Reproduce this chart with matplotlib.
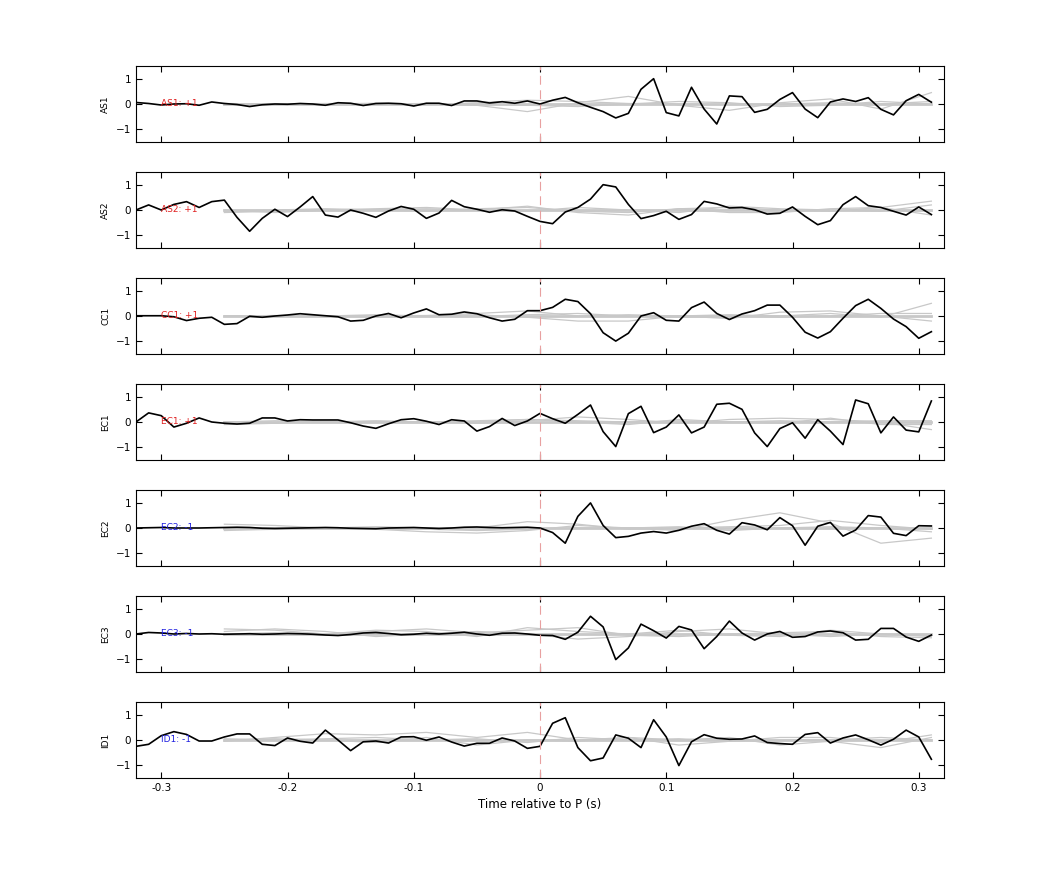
import numpy as np
import matplotlib
matplotlib.use('Agg')
import matplotlib.pyplot as plt

# time axis of the stacked traces (s)
t = np.round(np.arange(-0.32, 0.315, 0.01), 2)
t_gray = np.round(np.arange(-0.25, 0.33, 0.04), 2)

stations = ['AS1', 'AS2', 'CC1', 'EC1', 'EC2', 'EC3', 'ID1']
labels = ['AS1: +1', 'AS2: +1', 'CC1: +1', 'EC1: +1', 'EC2: -1', 'EC3: -1', 'ID1: -1']
label_colors = ['#e02020', '#e02020', '#e02020', '#e02020', '#2020e0', '#2020e0', '#2020e0']

as1 = [0.06, 0.02, -0.04, 0.0, 0.01, -0.05, 0.08, 0.02, -0.02, -0.1, -0.03, 0.0, -0.01, 0.02, 0.0, -0.05,
       0.05, 0.03, -0.06, 0.02, 0.03, 0.01, -0.08, 0.03, 0.03, -0.06, 0.12, 0.12, 0.04, 0.09, 0.03, 0.12,
       0.0, 0.15, 0.26, 0.05, -0.13, -0.3, -0.55, -0.37, 0.58, 1.0, -0.34, -0.47, 0.66, -0.2, -0.79, 0.32,
       0.29, -0.33, -0.21, 0.18, 0.45, -0.2, -0.54, 0.08, 0.2, 0.1, 0.25, -0.21, -0.43, 0.13, 0.38, 0.07]
as2 = [0.0, 0.2, 0.0, 0.22, 0.33, 0.1, 0.33, 0.39, -0.29, -0.84, -0.33, 0.03, -0.26, 0.12, 0.53, -0.2,
       -0.28, 0.0, -0.13, -0.29, -0.04, 0.14, 0.03, -0.33, -0.12, 0.38, 0.13, 0.03, -0.09, 0.01, -0.04, -0.25,
       -0.45, -0.54, -0.08, 0.1, 0.43, 1.0, 0.91, 0.22, -0.34, -0.22, -0.05, -0.37, -0.18, 0.34, 0.24, 0.08,
       0.1, 0.01, -0.16, -0.13, 0.12, -0.25, -0.58, -0.42, 0.21, 0.53, 0.17, 0.1, -0.05, -0.2, 0.12, -0.18]
cc1 = [0.01, 0.01, 0.01, -0.03, -0.18, -0.09, -0.05, -0.33, -0.3, -0.01, -0.05, 0.0, 0.04, 0.09, 0.05, 0.01,
       -0.03, -0.2, -0.17, 0.0, 0.1, -0.07, 0.12, 0.28, 0.05, 0.07, 0.16, 0.09, -0.07, -0.2, -0.13, 0.21,
       0.21, 0.34, 0.66, 0.57, 0.09, -0.66, -0.99, -0.68, 0.0, 0.13, -0.17, -0.2, 0.33, 0.55, 0.1, -0.14,
       0.08, 0.21, 0.43, 0.43, -0.05, -0.64, -0.87, -0.62, -0.09, 0.41, 0.66, 0.3, -0.12, -0.42, -0.88, -0.62]
ec1 = [0.0, 0.36, 0.25, -0.2, -0.05, 0.16, 0.0, -0.05, -0.08, -0.05, 0.16, 0.16, 0.04, 0.09, 0.08, 0.08,
       0.08, -0.03, -0.16, -0.25, -0.07, 0.09, 0.13, 0.03, -0.1, 0.09, 0.04, -0.36, -0.18, 0.14, -0.14, 0.04,
       0.34, 0.13, -0.05, 0.3, 0.67, -0.38, -0.97, 0.33, 0.62, -0.42, -0.2, 0.28, -0.43, -0.2, 0.7, 0.74,
       0.5, -0.43, -0.97, -0.26, -0.03, -0.64, 0.09, -0.36, -0.89, 0.87, 0.72, -0.43, 0.2, -0.32, -0.39, 0.83]
ec2 = [0.0, 0.01, 0.02, 0.0, 0.0, 0.0, 0.01, 0.02, 0.03, 0.02, -0.01, -0.02, -0.01, 0.0, 0.01, 0.02,
       0.01, -0.01, -0.02, -0.03, 0.0, 0.01, 0.02, 0.0, -0.02, 0.0, 0.03, 0.04, 0.02, 0.01, 0.02, 0.03,
       0.0, -0.18, -0.6, 0.46, 0.99, 0.1, -0.38, -0.33, -0.2, -0.14, -0.2, -0.09, 0.07, 0.17, -0.09, -0.24,
       0.21, 0.12, -0.07, 0.41, 0.09, -0.68, 0.07, 0.22, -0.32, -0.08, 0.49, 0.43, -0.21, -0.3, 0.09, 0.08]
ec3 = [0.0, 0.06, 0.04, 0.0, 0.02, 0.0, 0.01, -0.01, 0.0, 0.01, -0.01, 0.0, 0.02, 0.01, -0.01, -0.04,
       -0.06, -0.02, 0.04, 0.06, 0.02, -0.03, -0.01, 0.03, 0.0, 0.03, 0.07, 0.0, -0.05, 0.03, 0.04, 0.0,
       -0.05, -0.06, -0.21, 0.07, 0.7, 0.28, -1.01, -0.55, 0.39, 0.13, -0.16, 0.3, 0.16, -0.58, -0.1, 0.51,
       0.04, -0.24, 0.0, 0.1, -0.13, -0.1, 0.08, 0.12, 0.05, -0.24, -0.21, 0.22, 0.22, -0.12, -0.29, -0.04]
id1 = [-0.25, -0.17, 0.17, 0.33, 0.22, -0.04, -0.04, 0.12, 0.24, 0.24, -0.17, -0.22, 0.08, -0.05, -0.12, 0.39,
       0.0, -0.42, -0.07, -0.04, -0.12, 0.12, 0.13, -0.01, 0.12, -0.08, -0.24, -0.13, -0.13, 0.08, -0.04, -0.33,
       -0.25, 0.66, 0.88, -0.3, -0.82, -0.71, 0.2, 0.07, -0.3, 0.8, 0.12, -1.01, -0.07, 0.21, 0.07, 0.03,
       0.04, 0.16, -0.1, -0.14, -0.17, 0.22, 0.29, -0.12, 0.08, 0.2, 0.01, -0.2, 0.03, 0.39, 0.12, -0.76]
traces = [as1, as2, cc1, ec1, ec2, ec3, id1]

# background (gray) traces, coarse samples at t_gray
gray = [
    [[-0.02, 0.0, 0.02, 0.0, -0.03, 0.05, 0.15, 0.1, 0.02, 0.0, -0.02, 0.0, 0.05, 0.0, 0.1],
     [0.0, -0.02, 0.0, 0.03, 0.0, -0.05, -0.3, 0.05, 0.3, -0.05, -0.25, 0.05, 0.2, -0.2, 0.45],
     [0.02, 0.0, -0.01, 0.0, 0.02, 0.0, -0.05, -0.1, 0.0, 0.1, 0.05, -0.1, -0.05, 0.1, 0.0]],
    [[-0.05, 0.0, 0.05, 0.0, -0.05, 0.05, 0.1, -0.05, -0.1, 0.05, 0.1, 0.0, -0.05, 0.1, 0.35],
     [0.0, -0.1, 0.0, 0.05, 0.1, 0.0, -0.05, 0.1, 0.0, -0.1, 0.15, 0.05, 0.0, -0.05, 0.2],
     [-0.1, -0.05, -0.02, 0.0, 0.05, 0.0, 0.15, -0.1, -0.2, 0.05, -0.1, -0.1, 0.05, 0.1, -0.2]],
    [[0.0, 0.02, 0.0, 0.05, 0.0, 0.05, -0.05, -0.2, -0.2, 0.0, 0.05, 0.0, 0.1, -0.05, 0.5],
     [-0.02, 0.0, 0.0, 0.0, 0.02, 0.1, 0.2, 0.0, 0.05, 0.0, -0.1, 0.15, 0.2, 0.0, -0.2],
     [0.0, -0.02, 0.0, -0.05, 0.0, -0.02, 0.05, 0.1, 0.0, -0.05, 0.0, -0.05, 0.0, 0.1, 0.1]],
    [[-0.1, -0.05, 0.0, 0.05, 0.0, -0.05, 0.05, 0.2, 0.1, -0.05, 0.1, 0.15, 0.1, 0.0, -0.3],
     [0.0, 0.05, 0.0, 0.0, -0.02, 0.0, 0.1, 0.0, -0.1, 0.1, 0.0, -0.05, 0.15, -0.1, -0.1],
     [-0.05, -0.02, 0.0, 0.02, 0.0, 0.05, 0.1, 0.05, 0.0, 0.05, 0.0, 0.05, 0.0, 0.05, 0.05]],
    [[0.15, 0.1, 0.0, -0.05, -0.15, -0.2, -0.1, 0.1, 0.0, -0.1, 0.3, 0.6, 0.2, -0.6, -0.4],
     [-0.1, -0.05, 0.0, 0.05, 0.0, 0.0, 0.25, 0.15, -0.05, 0.0, 0.05, 0.1, 0.3, 0.1, -0.05],
     [0.0, 0.0, 0.0, 0.0, -0.05, -0.1, -0.05, 0.0, 0.0, 0.05, -0.1, 0.0, 0.05, 0.0, -0.15]],
    [[0.2, 0.15, 0.0, 0.1, 0.2, 0.05, 0.15, 0.25, -0.05, -0.1, 0.0, 0.05, 0.1, -0.1, -0.15],
     [0.1, 0.2, 0.1, -0.1, 0.0, 0.1, 0.0, -0.2, -0.1, 0.1, 0.2, 0.0, -0.1, 0.0, -0.1],
     [0.0, 0.05, 0.0, 0.15, 0.1, -0.1, 0.25, 0.1, 0.0, 0.15, -0.05, -0.1, 0.15, 0.0, -0.05]],
    [[-0.05, 0.1, 0.25, 0.2, 0.3, 0.1, 0.3, 0.0, 0.1, -0.2, -0.05, 0.1, 0.1, -0.1, 0.2],
     [0.0, 0.05, 0.0, -0.1, 0.1, -0.2, 0.0, -0.05, 0.1, 0.0, 0.1, -0.2, -0.05, -0.3, 0.1],
     [0.05, 0.0, 0.05, 0.1, 0.0, 0.05, -0.1, 0.1, 0.0, 0.05, -0.05, 0.0, 0.0, 0.1, 0.0]],
]

fig = plt.figure(figsize=(10.42, 8.75), dpi=100)
W, H = 1042.0, 875.0
for i, name in enumerate(stations):
    top = 66 + 106 * i
    ax = fig.add_axes([136 / W, 1 - (top + 76) / H, 808 / W, 76 / H])
    for g in gray[i]:
        ax.plot(t_gray, g, color='#c8c8c8', lw=0.9)
    ax.plot(t_gray, np.zeros(len(t_gray)), color='#c8c8c8', lw=2.0)
    ax.plot(t, traces[i], color='black', lw=1.2)
    ax.axvline(0, color='#e8a0a0', ls=(0, (8, 5)), lw=0.8)
    ax.text(-0.3, 0, labels[i], color=label_colors[i], fontsize=6.5, va='center')
    ax.set_xlim(-0.32, 0.32)
    ax.set_ylim(-1.5, 1.5)
    ax.set_yticks([-1, 0, 1])
    ax.set_xticks([-0.3, -0.2, -0.1, 0, 0.1, 0.2, 0.3])
    ax.tick_params(direction='in', top=True, right=True, labelsize=7.5, length=4, width=0.8)
    ax.set_ylabel(name, fontsize=6.5)
    for s in ax.spines.values():
        s.set_linewidth(0.8)
    if i < len(stations) - 1:
        ax.set_xticklabels([])
    else:
        ax.set_xticklabels(['-0.3', '-0.2', '-0.1', '0', '0.1', '0.2', '0.3'])
        ax.set_xlabel('Time relative to P (s)', fontsize=8.5)

fig.savefig('out.png', dpi=100)
